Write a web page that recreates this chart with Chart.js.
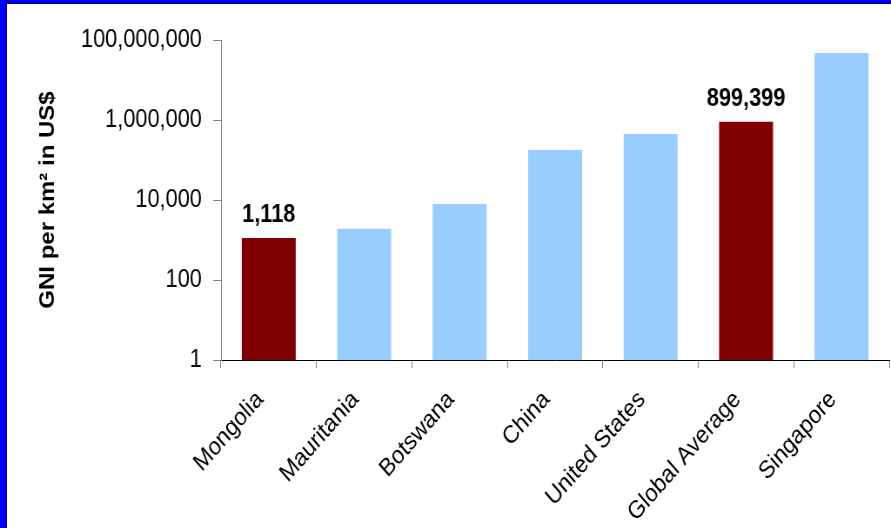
<!DOCTYPE html>
<html><head><meta charset="utf-8">
<script src="https://cdn.jsdelivr.net/npm/chart.js@4"></script>
<style>
html,body{margin:0;padding:0;background:#fff;width:891px;height:528px;overflow:hidden;}
#wrap{position:relative;width:891px;height:528px;overflow:hidden;}
canvas{position:absolute;left:0;top:0;transform:scaleX(0.8701);transform-origin:0 0;}
.bl{position:absolute;left:0;top:0;width:6px;height:528px;background:#0000FF;border-right:1px solid #000070;}
.bt{position:absolute;left:0;top:0;width:891px;height:3px;background:#0000FF;border-bottom:1px solid #000070;}
</style></head>
<body><div id="wrap"><canvas id="c" width="1024" height="528"></canvas><div class="bt"></div><div class="bl"></div></div>
<script>
const categories = ['Mongolia', 'Mauritania', 'Botswana', 'China', 'United States', 'Global Average', 'Singapore'];
const values = [1118, 1900, 8000, 178000, 447000, 899399, 47000000];
const highlighted = ['Mongolia', 'Global Average'];
const valueLabels = ['1,118', '', '', '', '', '899,399', ''];
const yTicks = [1, 100, 10000, 1000000, 100000000];
const yTitle = 'GNI per km\u00B2 in US$';

const FONT = '"Liberation Sans", Arial, sans-serif';

const labelPlugin = {
  id: 'valueLabels',
  afterDatasetsDraw(chart) {
    const ctx = chart.ctx;
    const meta = chart.getDatasetMeta(0);
    ctx.save();
    ctx.font = 'bold 25px ' + FONT;
    ctx.fillStyle = '#000';
    ctx.textAlign = 'center';
    ctx.textBaseline = 'alphabetic';
    meta.data.forEach((bar, i) => {
      if (valueLabels[i]) ctx.fillText(valueLabels[i], bar.x, bar.y - 16);
    });
    ctx.restore();
  }
};

new Chart(document.getElementById('c'), {
  type: 'bar',
  data: {
    labels: categories,
    datasets: [{
      data: values,
      backgroundColor: categories.map(c => highlighted.includes(c) ? '#800000' : '#99CCFF'),
      borderWidth: 0,
      barPercentage: 0.565,
      categoryPercentage: 1
    }]
  },
  options: {
    responsive: false,
    animation: false,
    devicePixelRatio: 1,
    layout: { padding: { left: 10, top: 40, right: 2, bottom: 0 } },
    plugins: { legend: { display: false }, tooltip: { enabled: false } },
    scales: {
      x: {
        grid: { drawOnChartArea: false, drawTicks: true, tickLength: 8, color: '#808080', offset: true },
        border: { color: '#000000', width: 1 },
        ticks: {
          minRotation: 45, maxRotation: 45, autoSkip: false,
          font: { family: FONT, size: 25 }, color: '#000', padding: 17, labelOffset: -10
        },
        afterFit(s) { s.height = 168; }
      },
      y: {
        type: 'logarithmic',
        min: 1, max: 100000000,
        afterBuildTicks(s) { s.ticks = yTicks.map(v => ({ value: v })); },
        ticks: {
          callback: v => Number(v).toLocaleString('en-US'),
          font: { family: FONT, size: 25 }, color: '#000', padding: 13
        },
        grid: { drawOnChartArea: false, drawTicks: true, tickLength: 9, color: '#808080' },
        border: { color: '#808080', width: 1 },
        title: {
          display: true, text: yTitle, color: '#000',
          font: { family: FONT, size: 24, weight: 'bold' },
          padding: { top: 31, bottom: 0 }
        },
        afterFit(s) { s.width = 244; }
      }
    }
  },
  plugins: [labelPlugin]
});
</script>
</body></html>
